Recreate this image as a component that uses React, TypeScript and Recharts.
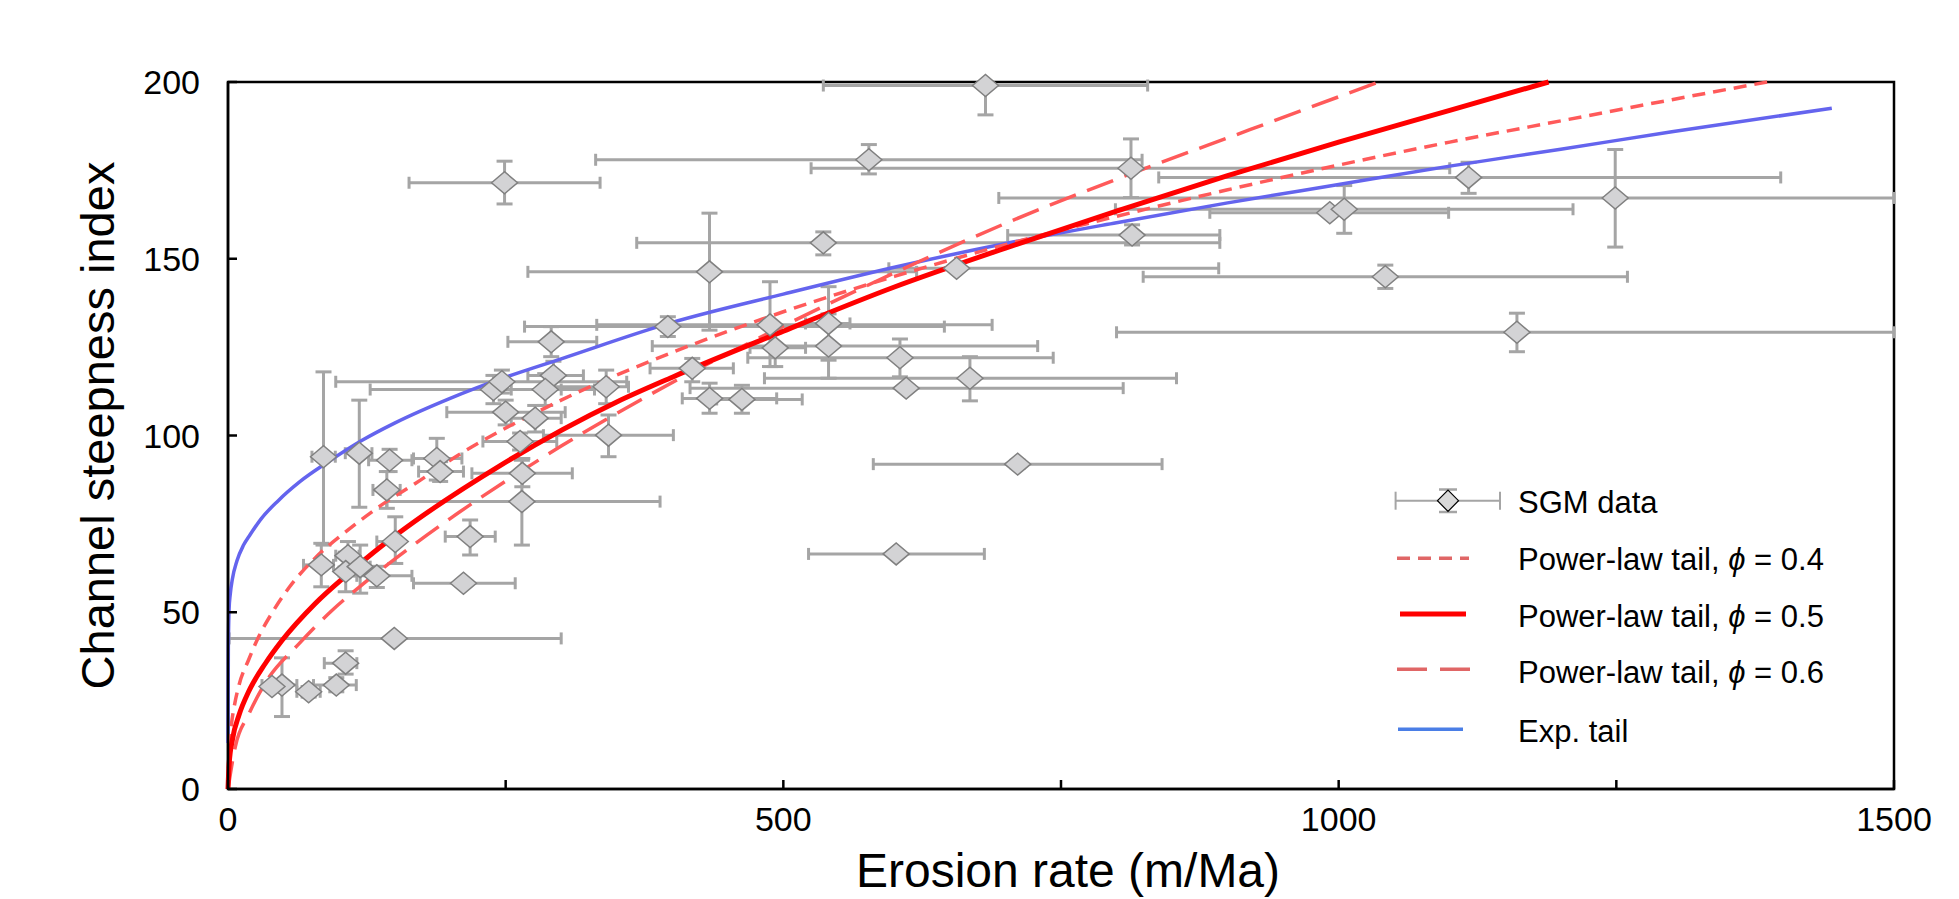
import React from 'react';
import {
    ComposedChart,
    Scatter,
    Line,
    XAxis,
    YAxis,
    ErrorBar,
    ReferenceArea,
    Legend,
} from 'recharts';

const FONT = '"Liberation Sans", Arial, Helvetica, sans-serif';

// SGM data points (erosion rate in m/Ma, steepness index) with error ranges
const sgmX = [682, 249, 577, 813, 1117, 1249, 992, 1005, 814, 536, 433.5, 656, 1042, 1160.5, 396, 488, 540.7, 492.7, 540.7, 605, 610.6, 668, 433.6, 462.7, 418, 291, 293, 285.6, 239, 246.6, 250, 276.6, 340.5, 263, 342.6, 265, 264.6, 188, 191, 145.5, 143, 86, 118.2, 150.6, 218, 212, 149.7, 84, 108, 106, 119, 134, 48.6, 39.6, 72.6, 97.5, 105.9, 601.6, 711];
const sgmY = [199, 171.5, 178, 175.6, 173, 167.2, 163, 164, 156.7, 154.5, 146.3, 147.3, 144.9, 129.2, 130.8, 131.3, 131.7, 124.8, 125.3, 122, 113.4, 116.2, 110.5, 110.2, 119, 126.5, 117, 113, 113, 115.2, 106.6, 104.9, 113.8, 98.3, 100.1, 89.3, 81.3, 93.5, 89.8, 93, 84.6, 94, 95, 70, 71.4, 58.2, 42.6, 63.4, 66, 61.5, 62.9, 60.3, 29.4, 29, 27.5, 29.4, 35.6, 66.5, 91.9];
const sgmXLow = [536, 163, 331, 525, 838, 694, 884, 799, 702, 368, 270, 595, 824, 800, 267, 332, 520, 470, 382, 468, 416, 483, 409, 440, 380, 252, 270, 255, 128, 97, 197, 255, 290, 229.5, 284, 219.6, 143, 167, 171.6, 126.6, 130.5, 75.6, 105.6, 134, 195.6, 167, 1, 68, 97, 100, 110, 116, 30.6, 35, 62, 77, 86.7, 522.7, 581];
const sgmXHigh = [828, 335, 823, 1100, 1398, 1500, 1099, 1211, 893, 893, 620, 892, 1260, 1500, 645, 688, 560, 520, 729, 743, 806, 854, 494, 517, 455, 332, 320, 330, 300, 359, 303.6, 300, 360.6, 296, 401, 310, 389, 210.6, 212, 165.6, 155, 96.6, 129.6, 155, 240.6, 258.6, 300, 95, 118, 114, 128, 165.6, 62, 45, 83, 115.5, 116, 681, 841];
const sgmYLow = [190.7, 165.5, 174, 167.3, 168.5, 153.3, 163, 157.2, 153.9, 151.1, 129.8, 147.3, 141.6, 123.7, 128, 119.5, 121.3, 119.5, 116.2, 116.6, 113.4, 109.8, 106.3, 106.3, 115.2, 122.3, 113, 108.5, 109, 112, 103, 101, 109, 95.9, 94, 85.5, 69, 87.4, 87, 89.8, 79.4, 69, 79.7, 63.8, 66.2, 58.2, 42.6, 57.2, 62, 55.8, 55.4, 57, 20.5, 29, 26, 27.5, 32.5, 65.5, 90.8];
const sgmYHigh = [200, 177.6, 182.3, 183.9, 177.3, 180.9, 163, 170.7, 159.6, 157.6, 162.9, 147.3, 148.2, 134.6, 133.6, 143.5, 142.1, 130, 134.4, 127.3, 113.4, 122.3, 114.8, 114.2, 121.8, 130.8, 121, 117.5, 117, 118.5, 110, 108.5, 118.5, 100.7, 105.8, 93.5, 93, 99.2, 92.6, 96.1, 89.8, 118, 110, 77, 76.1, 58.2, 42.6, 69.5, 70, 67, 69, 63, 37.1, 29, 29, 31.5, 39.1, 67.5, 93];

// model curves
const phi04X = [0, 1, 3, 6, 10, 18.5, 27.5, 40, 55, 79, 109, 139, 169, 200, 300, 400, 500, 600, 700, 800, 900, 1000, 1100, 1200, 1300, 1386];
const phi04Y = [0, 11, 18, 24, 29.5, 36.5, 43, 50, 57, 65.5, 73.5, 80.5, 86.5, 93, 110, 123.5, 135, 145, 154, 162, 169.5, 176.5, 183, 189, 195, 200];

const phi05X = [0, 1, 4, 10, 18.5, 33.6, 48.6, 78.6, 108.6, 138.6, 168.6, 245, 350, 400, 500, 600, 700, 800, 900, 1000, 1100, 1189];
const phi05Y = [0, 7, 14, 21, 27.5, 35.5, 42, 52.5, 61, 68.8, 75.8, 91.5, 109.5, 116.5, 129.5, 142, 153, 163.5, 173.5, 183, 192, 200];

const phi06X = [0, 6.6, 18.5, 33.6, 63.6, 93.6, 123.6, 162.6, 200, 300, 371, 500, 600, 700, 800, 920, 1036];
const phi06Y = [0, 12, 21, 30, 41, 50.5, 58.5, 68, 76.5, 97, 110, 131, 146, 160, 172.5, 186.5, 200];

const expX = [0, 0.3, 1, 2, 4, 8, 14, 20, 30, 45, 65, 90, 120, 150, 200, 250, 300, 400, 500, 600, 700, 800, 900, 1000, 1100, 1200, 1300, 1444];
const expY = [13, 40, 51, 55, 59.5, 64.5, 69, 72, 76.5, 81.5, 87, 92.5, 98.5, 103.5, 110.5, 116.5, 121.7, 132, 140, 147.6, 154.3, 160.2, 165.8, 171, 176.2, 181, 185.9, 192.6];

const xTicks = [0, 250, 500, 750, 1000, 1250, 1500];
const yTicks = [0, 50, 100, 150, 200];

const sgmData = sgmX.map((x, i) => ({
    x,
    y: sgmY[i],
    ex: [x - sgmXLow[i], sgmXHigh[i] - x],
    ey: [sgmY[i] - sgmYLow[i], sgmYHigh[i] - sgmY[i]],
}));

const toPoints = (xs: number[], ys: number[]) => xs.map((x, i) => ({ x, y: ys[i] }));

const Diamond = (props: any) => {
    const { cx, cy } = props;
    if (cx == null || cy == null) return null;
    return (
        <polygon
            points={`${cx - 13},${cy} ${cx},${cy - 11} ${cx + 13},${cy} ${cx},${cy + 11}`}
            fill="#d3d3d5"
            stroke="#808080"
            strokeWidth={1.5}
        />
    );
};

const LegendBox = () => {
    const textX = 138;
    const rows = [
        { label: '0.4', y: 88.3, base: 100, x1: 17, x2: 89, dash: '13 8', color: '#e06666', w: 3.5 },
        { label: '0.5', y: 144, base: 156.7, x1: 20, x2: 86, dash: undefined, color: '#ff0000', w: 5 },
        { label: '0.6', y: 199.3, base: 213, x1: 17, x2: 90, dash: '30 13', color: '#e06666', w: 3.5 },
    ];
    return (
        <svg width={520} height={300} style={{ fontFamily: FONT }}>
            {/* SGM data symbol */}
            <line x1={15.6} x2={120} y1={30.7} y2={30.7} stroke="#a5a5a5" strokeWidth={2} />
            <line x1={15.6} x2={15.6} y1={21.7} y2={39.7} stroke="#a5a5a5" strokeWidth={2} />
            <line x1={120} x2={120} y1={21.7} y2={39.7} stroke="#a5a5a5" strokeWidth={2} />
            <line x1={59} x2={77} y1={19.5} y2={19.5} stroke="#a5a5a5" strokeWidth={2.5} />
            <line x1={59} x2={77} y1={42} y2={42} stroke="#a5a5a5" strokeWidth={2.5} />
            <polygon points="57.5,30.7 68,20 78.5,30.7 68,41.4" fill="#d9d9d9" stroke="#000" strokeWidth={1.2} />
            <text x={textX} y={42.7} fontSize={31} fill="#000">SGM data</text>
            {rows.map((r) => (
                <g key={r.label}>
                    <line x1={r.x1} x2={r.x2} y1={r.y} y2={r.y} stroke={r.color} strokeWidth={r.w} strokeDasharray={r.dash} />
                    <text x={textX} y={r.base} fontSize={31} fill="#000">
                        Power-law tail, <tspan fontStyle="italic">ϕ</tspan> = {r.label}
                    </text>
                </g>
            ))}
            <line x1={18} x2={83} y1={259.3} y2={259.3} stroke="#4a7ee6" strokeWidth={3.5} />
            <text x={textX} y={271.7} fontSize={31} fill="#000">Exp. tail</text>
        </svg>
    );
};

export default function App() {
    return (
        <div style={{ width: 1959, height: 899, background: '#fff', position: 'relative' }}>
            <style>{'body { margin: 0; overflow: hidden; background: #fff; }'}</style>
            <ComposedChart
                width={1959}
                height={899}
                margin={{ top: 82, right: 65, bottom: 50, left: 128 }}
            >
                <ReferenceArea
                    x1={0}
                    x2={1500}
                    y1={0}
                    y2={200}
                    fill="none"
                    stroke="#000"
                    strokeWidth={2.5}
                    ifOverflow="visible"
                />
                <XAxis
                    type="number"
                    dataKey="x"
                    domain={[0, 1500]}
                    ticks={xTicks}
                    interval={0}
                    height={60}
                    tickSize={-9}
                    tickMargin={27}
                    tickFormatter={(v: number) => (v % 500 === 0 ? String(v) : '')}
                    tick={{ fontSize: 34, fill: '#000', fontFamily: FONT }}
                    axisLine={{ stroke: '#000', strokeWidth: 2.5 }}
                    tickLine={{ stroke: '#000', strokeWidth: 2.5 }}
                    label={{
                        content: () => (
                            <text x={1068} y={887} textAnchor="middle" fontSize={48} fontFamily={FONT} fill="#000">
                                Erosion rate (m/Ma)
                            </text>
                        ),
                    }}
                />
                <YAxis
                    type="number"
                    dataKey="y"
                    domain={[0, 200]}
                    ticks={yTicks}
                    interval={0}
                    width={100}
                    tickSize={-9}
                    tickMargin={37}
                    tick={{ fontSize: 34, fill: '#000', fontFamily: FONT }}
                    axisLine={{ stroke: '#000', strokeWidth: 2.5 }}
                    tickLine={{ stroke: '#000', strokeWidth: 2.5 }}
                    label={{
                        content: () => (
                            <text
                                x={114}
                                y={425.5}
                                transform="rotate(-90, 114, 425.5)"
                                textAnchor="middle"
                                fontSize={47}
                                fontFamily={FONT}
                                fill="#000"
                            >
                                Channel steepness index
                            </text>
                        ),
                    }}
                />
                <Scatter
                    name="SGM data"
                    data={sgmData}
                    shape={Diamond}
                    isAnimationActive={false}
                >
                    <ErrorBar dataKey="ex" direction="x" width={6} stroke="#a5a5a5" strokeWidth={3} />
                    <ErrorBar dataKey="ey" direction="y" width={8} stroke="#a5a5a5" strokeWidth={3} />
                </Scatter>
                <Line
                    name="Exp. tail"
                    data={toPoints(expX, expY)}
                    dataKey="y"
                    type="monotone"
                    stroke="#6464ee"
                    strokeWidth={3.5}
                    dot={false}
                    activeDot={false}
                    isAnimationActive={false}
                />
                <Line
                    name="Power-law tail, phi = 0.6"
                    data={toPoints(phi06X, phi06Y)}
                    dataKey="y"
                    type="monotone"
                    stroke="#ff5a5a"
                    strokeWidth={3.5}
                    strokeDasharray="28 12"
                    dot={false}
                    activeDot={false}
                    isAnimationActive={false}
                />
                <Line
                    name="Power-law tail, phi = 0.4"
                    data={toPoints(phi04X, phi04Y)}
                    dataKey="y"
                    type="monotone"
                    stroke="#ff5a5a"
                    strokeWidth={3.5}
                    strokeDasharray="13 8"
                    dot={false}
                    activeDot={false}
                    isAnimationActive={false}
                />
                <Line
                    name="Power-law tail, phi = 0.5"
                    data={toPoints(phi05X, phi05Y)}
                    dataKey="y"
                    type="monotone"
                    stroke="#ff0000"
                    strokeWidth={5}
                    dot={false}
                    activeDot={false}
                    isAnimationActive={false}
                />
                <Legend
                    layout="vertical"
                    align="center"
                    verticalAlign="middle"
                    wrapperStyle={{ position: 'absolute', left: 1380, top: 470, width: 520, height: 300 }}
                    content={() => <LegendBox />}
                />
            </ComposedChart>
        </div>
    );
}
